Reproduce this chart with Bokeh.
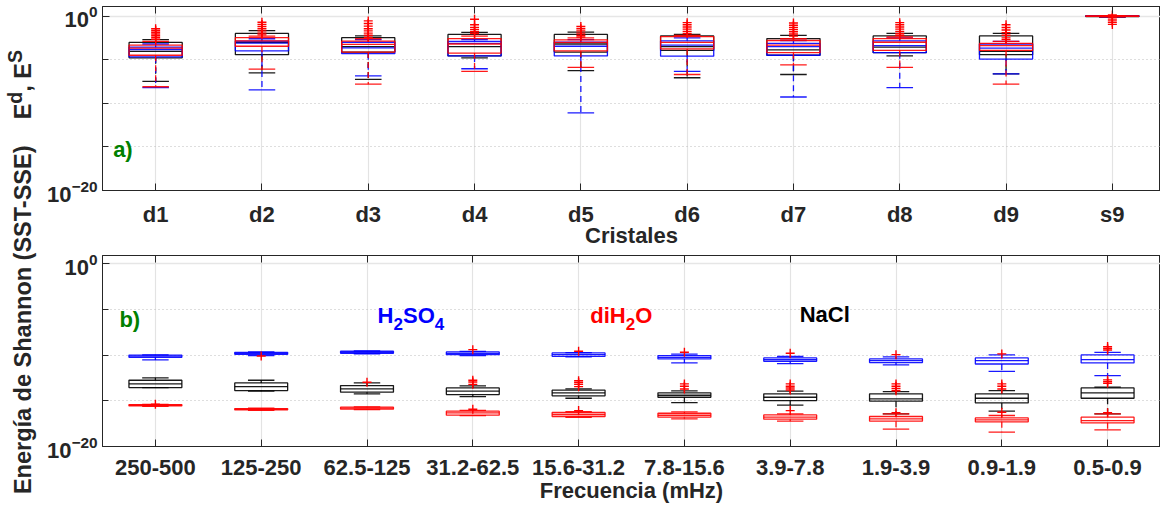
import numpy as np
from bokeh.plotting import figure
from bokeh.models import (Range1d, FixedTicker, LinearAxis, Div, CustomJSTickFormatter,
                          LogTickFormatter)
from bokeh.layouts import row, column
from bokeh.embed import file_html
from bokeh.resources import INLINE
from bokeh.core.properties import value

FONT = "Liberation Sans"
AX = "#262626"

# ---------------- data (log10 of energy) ----------------
crystals = ["d1", "d2", "d3", "d4", "d5", "d6", "d7", "d8", "d9", "s9"]
bands = ["250-500", "125-250", "62.5-125", "31.2-62.5", "15.6-31.2",
         "7.8-15.6", "3.9-7.8", "1.9-3.9", "0.9-1.9", "0.5-0.9"]

# Panel a) - NaCl (black)
a_nacl_low = [-7.48, -6.52, -7.26, -4.79, -6.26, -7.07, -6.70, -4.57, -6.63, -0.12]
a_nacl_q1 = [-4.79, -4.42, -4.13, -4.57, -4.13, -3.94, -4.49, -4.20, -4.42, -0.05]
a_nacl_med = [-4.05, -3.00, -3.50, -3.50, -3.20, -3.50, -3.87, -3.57, -4.05, 0.00]
a_nacl_q3 = [-3.02, -1.99, -2.47, -2.10, -2.10, -2.28, -2.58, -2.28, -2.28, 0.03]
a_nacl_high = [-2.69, -1.66, -2.28, -1.87, -1.84, -2.10, -2.21, -1.99, -1.99, 0.06]
a_nacl_out = [[], [], [], [], [], [], [], [], [], []]

# Panel a) - H2SO4 (blue)
a_h2so4_low = [-8.20, -8.47, -6.85, -6.04, -11.10, -6.33, -9.28, -8.21, -6.63, -0.10]
a_h2so4_q1 = [-4.68, -4.00, -4.31, -4.57, -4.57, -4.60, -4.49, -4.20, -4.93, -0.04]
a_h2so4_med = [-3.83, -3.10, -3.65, -3.13, -3.46, -3.32, -3.50, -3.39, -3.68, 0.00]
a_h2so4_q3 = [-3.57, -2.87, -3.00, -2.90, -3.00, -2.84, -3.13, -2.84, -3.20, 0.03]
a_h2so4_high = [-3.20, -2.60, -2.70, -2.70, -2.70, -2.50, -2.80, -2.50, -2.90, 0.05]
a_h2so4_out = [[], [], [], [], [], [], [], [], [], []]

# Panel a) - diH2O (red)
a_dih2o_low = [-8.10, -6.08, -7.81, -6.33, -5.89, -6.70, -5.60, -5.89, -7.81, -0.08]
a_dih2o_q1 = [-4.49, -3.46, -4.13, -4.24, -4.00, -3.76, -4.20, -3.94, -3.94, -0.03]
a_dih2o_med = [-3.68, -2.84, -3.24, -3.20, -3.02, -3.02, -3.32, -3.00, -3.39, 0.00]
a_dih2o_q3 = [-3.32, -2.47, -2.87, -2.58, -2.73, -2.36, -2.80, -2.58, -3.13, 0.02]
a_dih2o_high = [-2.90, -2.30, -2.60, -2.30, -2.50, -2.20, -2.60, -2.40, -2.90, 0.04]
a_dih2o_out = [
    [-1.45, -1.65, -1.85, -2.05, -2.25, -2.45, -2.65],
    [-0.70, -0.95, -1.20, -1.45, -1.70, -1.95, -2.15],
    [-0.55, -0.85, -1.15, -1.45, -1.70, -1.95, -2.20, -2.45],
    [-0.37, -1.00, -1.30, -1.55, -1.80, -2.00],
    [-1.20, -1.45, -1.70, -1.95, -2.20, -2.40],
    [-0.75, -1.00, -1.25, -1.50, -1.75, -2.00],
    [-0.80, -1.05, -1.30, -1.55, -1.80, -2.05, -2.30],
    [-0.75, -1.00, -1.25, -1.50, -1.75, -2.00, -2.20],
    [-1.00, -1.30, -1.60, -1.90, -2.20, -2.50, -2.70],
    [0.12, -0.20, -0.45, -0.70, -0.95],
]

# Panel b) - H2SO4 (blue)
b_h2so4_low = [-10.53, -10.05, -9.85, -10.05, -10.20, -10.86, -10.93, -11.07, -11.77, -12.24]
b_h2so4_q1 = [-10.24, -9.91, -9.80, -9.95, -10.13, -10.42, -10.67, -10.82, -10.97, -10.86]
b_h2so4_med = [-10.10, -9.80, -9.70, -9.80, -9.94, -10.24, -10.50, -10.60, -10.60, -10.49]
b_h2so4_q3 = [-10.00, -9.69, -9.58, -9.65, -9.76, -10.05, -10.31, -10.42, -10.31, -9.98]
b_h2so4_high = [-9.97, -9.66, -9.55, -9.60, -9.72, -9.90, -10.15, -10.20, -9.98, -9.69]
b_h2so4_out = [[], [-10.09], [], [-9.40], [-9.58], [-9.69], [-9.80], [-9.95], [-9.87],
               [-9.07, -9.25, -9.44]]

# Panel b) - NaCl (black)
b_nacl_low = [-13.55, -13.95, -14.24, -14.54, -14.72, -15.19, -15.48, -16.43, -16.14, -16.43]
b_nacl_q1 = [-13.55, -13.88, -14.06, -14.32, -14.46, -14.61, -14.97, -15.04, -15.23, -14.72]
b_nacl_med = [-13.15, -13.44, -13.70, -13.95, -14.13, -14.39, -14.61, -14.79, -14.72, -14.13]
b_nacl_q3 = [-12.75, -13.04, -13.33, -13.59, -13.84, -14.13, -14.24, -14.24, -14.24, -13.59]
b_nacl_high = [-12.49, -12.75, -13.04, -13.37, -13.70, -13.91, -13.95, -13.99, -13.88, -13.51]
b_nacl_out = [[], [], [-12.97], [-12.75, -12.95, -13.20], [-12.80, -13.00, -13.20, -13.45],
              [-13.15, -13.40, -13.70], [-13.15, -13.40, -13.60, -13.81],
              [-13.15, -13.40, -13.65, -13.90], [-13.15, -13.40, -13.70],
              [-12.71, -12.90, -13.08]]

# Panel b) - diH2O (red)
b_dih2o_low = [-15.60, -16.05, -15.95, -16.62, -16.80, -16.97, -17.23, -18.10, -18.43, -18.18]
b_dih2o_q1 = [-15.56, -16.00, -15.92, -16.57, -16.72, -16.79, -17.01, -17.23, -17.30, -17.41]
b_dih2o_med = [-15.48, -15.92, -15.81, -16.32, -16.50, -16.58, -16.79, -16.97, -17.08, -17.16]
b_dih2o_q3 = [-15.41, -15.85, -15.70, -16.14, -16.28, -16.36, -16.54, -16.72, -16.87, -16.79]
b_dih2o_high = [-15.38, -15.80, -15.66, -16.05, -16.20, -16.22, -16.43, -16.43, -16.61, -16.43]
b_dih2o_out = [[-15.38], [], [], [-15.92], [-16.07], [], [-16.07], [-16.30], [-16.25], [-16.30]]


def draw_boxes(p, low, q1, med, q3, high, outl, color):
    x = np.arange(1, len(q1) + 1, dtype=float)
    lo, a, m, b, hi = [10.0 ** np.array(v, dtype=float) for v in (low, q1, med, q3, high)]
    hw, cw = 0.25, 0.125
    kw = dict(line_color=color, line_width=1.3, line_alpha=0.9)
    p.segment(x0=x, y0=b, x1=x, y1=hi, line_dash="6 4", **kw)
    p.segment(x0=x, y0=a, x1=x, y1=lo, line_dash="6 4", **kw)
    p.segment(x0=x - cw, y0=hi, x1=x + cw, y1=hi, **kw)
    p.segment(x0=x - cw, y0=lo, x1=x + cw, y1=lo, **kw)
    p.quad(left=x - hw, right=x + hw, bottom=a, top=b, fill_alpha=0, **kw)
    p.segment(x0=x - hw, y0=m, x1=x + hw, y1=m, **kw)
    ox = [i + 1 for i, lst in enumerate(outl) for _ in lst]
    oy = [10.0 ** v for lst in outl for v in lst]
    if ox:
        p.scatter(x=ox, y=oy, marker="cross", size=9, line_color="#ff0000", line_width=1.4)


def make_fig(height, top, bottom, left, xend, ytop, labels, xlabel, tick_sd, lab_sd):
    p = figure(width=1120, height=height, x_range=Range1d(0.5, xend),
               y_range=Range1d(1e-20, 10 ** ytop), y_axis_type="log",
               output_backend="svg", toolbar_location=None,
               min_border_left=left, min_border_right=0,
               min_border_top=top, min_border_bottom=bottom)
    p.background_fill_color = "white"
    p.border_fill_color = "white"
    p.outline_line_color = AX
    p.outline_line_width = 1
    ticks = list(range(1, len(labels) + 1))
    p.xaxis.ticker = FixedTicker(ticks=ticks)
    p.xaxis.major_label_overrides = {t: lab for t, lab in zip(ticks, labels)}
    p.xaxis.axis_label = xlabel
    for ax in (p.xaxis, p.yaxis):
        ax.axis_line_color = AX
        ax.major_tick_line_color = AX
        ax.minor_tick_line_color = AX
        ax.major_tick_in = 7
        ax.major_tick_out = 0
        ax.major_label_text_font = FONT
        ax.major_label_text_font_style = "bold"
        ax.major_label_text_color = AX
        ax.axis_label_text_font = FONT
        ax.axis_label_text_font_style = "bold"
        ax.axis_label_text_color = AX
        ax.axis_label_text_font_size = "22px"
    p.xaxis.major_label_text_font_size = "22px"
    p.xaxis.major_label_standoff = tick_sd
    p.xaxis.axis_label_standoff = lab_sd
    p.yaxis.ticker = FixedTicker(ticks=[1e-20, 1.0], minor_ticks=[1e-15, 1e-10, 1e-5])
    p.yaxis.formatter = LogTickFormatter()
    p.yaxis.major_label_text_font_size = "22px"
    p.yaxis.major_label_standoff = 5
    p.yaxis.minor_tick_in = 6
    p.yaxis.minor_tick_out = 0
    p.xgrid.grid_line_color = "#e3e3e3"
    p.xgrid.grid_line_width = 1.2
    p.ygrid.grid_line_color = "#e6e6e6"
    p.ygrid.grid_line_width = 1.5
    p.ygrid.minor_grid_line_color = "#bdbdbd"
    p.ygrid.minor_grid_line_dash = "1 3"
    top_ax = LinearAxis(ticker=FixedTicker(ticks=ticks),
                        formatter=CustomJSTickFormatter(code="return ''"),
                        major_tick_in=7, major_tick_out=0, major_label_standoff=0,
                        axis_line_color=AX, major_tick_line_color=AX)
    p.add_layout(top_ax, "above")
    return p


pa = make_fig(250, 6, 53, 62, 10.453, 1.1, crystals, "Cristales", 11, -7)
pb = make_fig(263, 5, 67, 58, 10.5, 0.9, bands, "Frecuencia (mHz)", 13, 0)

draw_boxes(pa, a_nacl_low, a_nacl_q1, a_nacl_med, a_nacl_q3, a_nacl_high, a_nacl_out, "#000000")
draw_boxes(pa, a_h2so4_low, a_h2so4_q1, a_h2so4_med, a_h2so4_q3, a_h2so4_high, a_h2so4_out, "#0000ff")
draw_boxes(pa, a_dih2o_low, a_dih2o_q1, a_dih2o_med, a_dih2o_q3, a_dih2o_high, a_dih2o_out, "#ff0000")

draw_boxes(pb, b_h2so4_low, b_h2so4_q1, b_h2so4_med, b_h2so4_q3, b_h2so4_high, b_h2so4_out, "#0000ff")
draw_boxes(pb, b_nacl_low, b_nacl_q1, b_nacl_med, b_nacl_q3, b_nacl_high, b_nacl_out, "#000000")
draw_boxes(pb, b_dih2o_low, b_dih2o_q1, b_dih2o_med, b_dih2o_q3, b_dih2o_high, b_dih2o_out, "#ff0000")

GREEN = "#008000"
tkw = dict(text_font=value(FONT), text_font_style="bold", text_baseline="alphabetic",
           text_align="left")
pa.text(x=[0.6], y=[10 ** -15.3], text=["a)"], text_color=GREEN, text_font_size="22px", **tkw)
pb.text(x=[0.66], y=[10 ** -6.1], text=["b)"], text_color=GREEN, text_font_size="22px", **tkw)


def chem(p, x, y, pieces, color):
    off = 0.0
    for txt, size, dy, w in pieces:
        p.text(x=[x], y=[y], text=[txt], text_color=color, text_font_size=f"{size}px",
               x_offset=off, y_offset=dy, **tkw)
        off += w


chem(pb, 3.10, 10 ** -5.7, [("H", 22, 0, 15.9), ("2", 17, 8, 9.5), ("SO", 22, 0, 31.8),
                            ("4", 17, 8, 9.5)], "#0000ff")
chem(pb, 5.11, 10 ** -5.7, [("diH", 22, 0, 35.4), ("2", 17, 8, 9.5), ("O", 22, 0, 17.1)],
     "#ff0000")
chem(pb, 7.09, 10 ** -5.57, [("NaCl", 22, 0, 50)], "#000000")

ylabel = Div(
    text=('<div style="position:relative;width:40px;height:513px;">'
          '<div style="position:absolute;left:21px;top:272px;'
          'transform:translate(-50%,-50%) rotate(-90deg);white-space:nowrap;'
          "font-family:'Liberation Sans';font-weight:bold;font-size:23.5px;color:#262626;\">"
          'Energía de Shannon (SST-SSE)&nbsp;&nbsp;&nbsp;&nbsp;E<sup>d</sup>, E<sup>S</sup>'
          '</div></div>'),
    width=40, height=513, margin=(0, 0, 0, 0))

layout = row(ylabel, column(pa, pb, spacing=0), spacing=0)

with open("out.html", "w") as f:
    f.write(file_html(layout, INLINE))
